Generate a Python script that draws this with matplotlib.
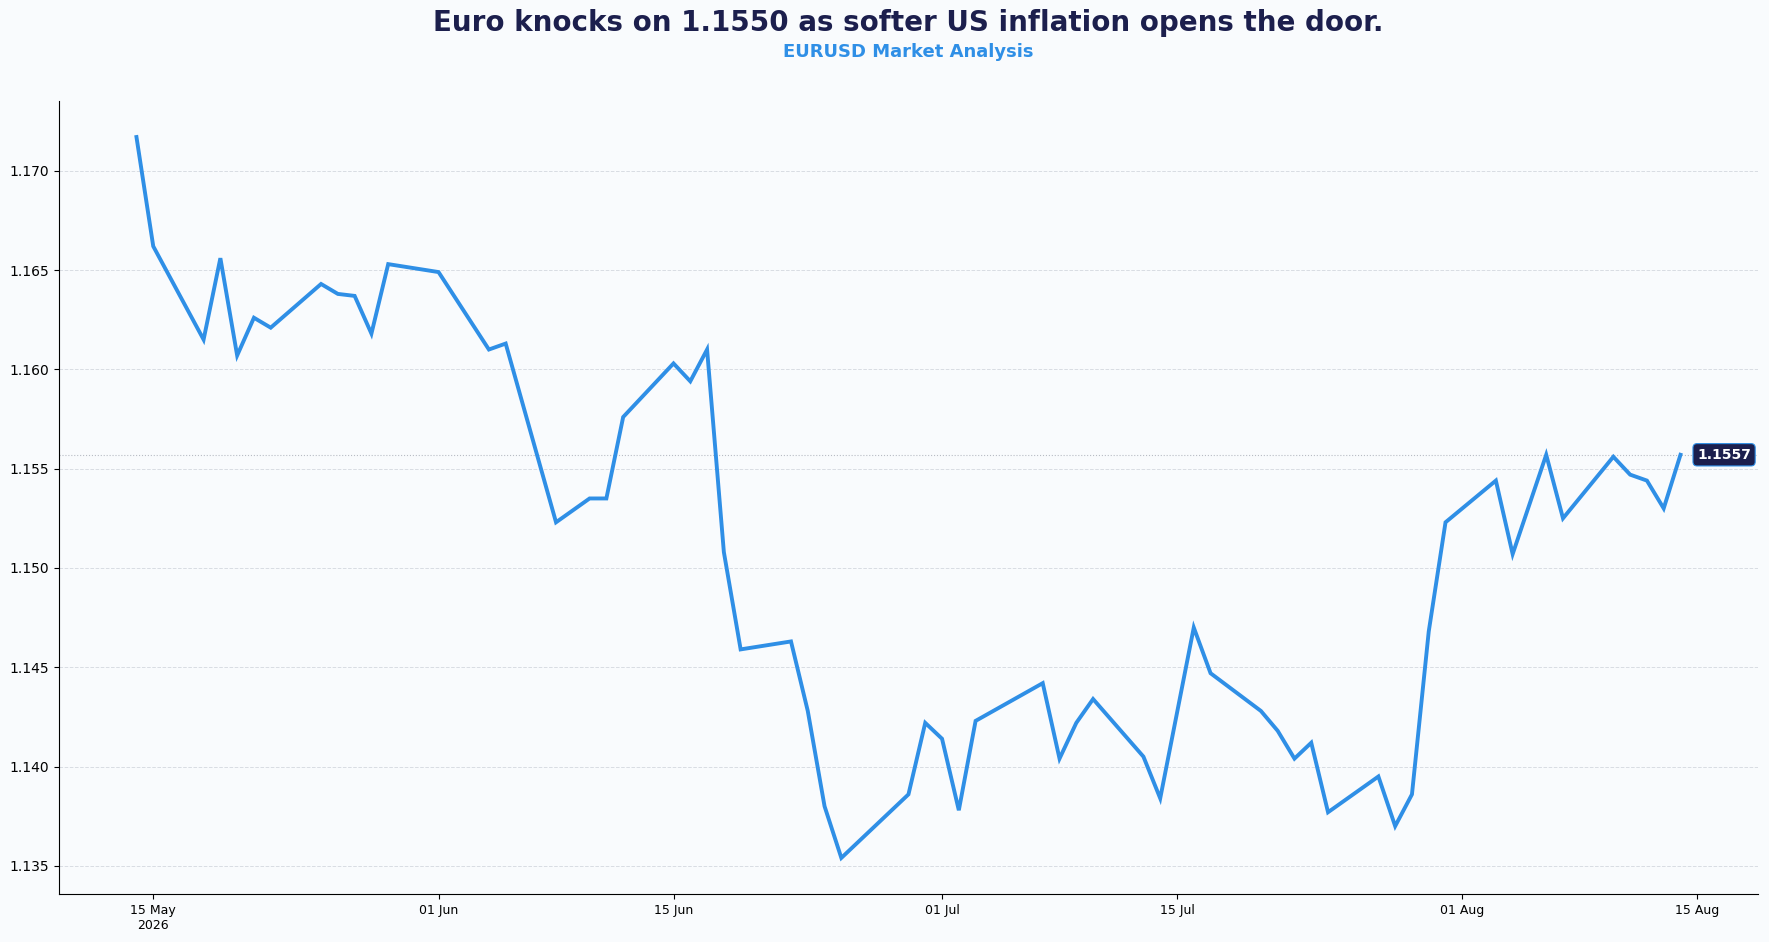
import numpy as np
import pandas as pd
import matplotlib
matplotlib.use("Agg")
import matplotlib.pyplot as plt
import matplotlib.dates as mdates
from matplotlib.ticker import FuncFormatter

# EURUSD closes
dates = [
    "2026-05-14", "2026-05-15", "2026-05-18", "2026-05-19", "2026-05-20",
    "2026-05-21", "2026-05-22", "2026-05-25", "2026-05-26", "2026-05-27",
    "2026-05-28", "2026-05-29", "2026-06-01", "2026-06-04", "2026-06-05",
    "2026-06-08", "2026-06-10", "2026-06-11", "2026-06-12", "2026-06-15",
    "2026-06-16", "2026-06-17", "2026-06-18", "2026-06-19", "2026-06-22",
    "2026-06-23", "2026-06-24", "2026-06-25", "2026-06-29", "2026-06-30",
    "2026-07-01", "2026-07-02", "2026-07-03", "2026-07-07", "2026-07-08",
    "2026-07-09", "2026-07-10", "2026-07-13", "2026-07-14", "2026-07-16",
    "2026-07-17", "2026-07-20", "2026-07-21", "2026-07-22", "2026-07-23",
    "2026-07-24", "2026-07-27", "2026-07-28", "2026-07-29", "2026-07-30",
    "2026-07-31", "2026-08-03", "2026-08-04", "2026-08-06", "2026-08-07",
    "2026-08-10", "2026-08-11", "2026-08-12", "2026-08-13", "2026-08-14",
]
close = [
    1.1717, 1.1662, 1.1615, 1.1656, 1.1607,
    1.1626, 1.1621, 1.1643, 1.1638, 1.1637,
    1.1618, 1.1653, 1.1649, 1.1610, 1.1613,
    1.1523, 1.1535, 1.1535, 1.1576, 1.1603,
    1.1594, 1.1610, 1.1508, 1.1459, 1.1463,
    1.1428, 1.1380, 1.1354, 1.1386, 1.1422,
    1.1414, 1.1378, 1.1423, 1.1442, 1.1404,
    1.1422, 1.1434, 1.1405, 1.1384, 1.1470,
    1.1447, 1.1428, 1.1418, 1.1404, 1.1412,
    1.1377, 1.1395, 1.1370, 1.1386, 1.1468,
    1.1523, 1.1544, 1.1507, 1.1557, 1.1525,
    1.1556, 1.1547, 1.1544, 1.1530, 1.1557,
]
title = "Euro knocks on 1.1550 as softer US inflation opens the door."
subtitle = "EURUSD Market Analysis"

x = pd.to_datetime(dates)
y = np.array(close)

bg = "#f9fbfd"
blue = "#2f8fe6"
navy = "#1c1f4d"

fig = plt.figure(figsize=(17.69, 9.42), dpi=100, facecolor=bg)
ax = fig.add_axes([0.0335, 0.051, 0.9601, 0.8418])
ax.set_facecolor(bg)

ax.plot(x, y, color=blue, lw=2.8, solid_joinstyle="miter", zorder=3)

last = y[-1]
ax.axhline(last, color="#b8bcc4", lw=0.8, ls=":", zorder=1)
ax.annotate(f"{last:.4f}", xy=(x[-1], last), xytext=(12, 0),
            textcoords="offset points", ha="left", va="center",
            color="white", fontsize=10, fontweight="bold",
            bbox=dict(boxstyle="round,pad=0.3", fc=navy, ec=blue, lw=0.8))

ax.yaxis.grid(True, ls="--", color="#d9dde3", lw=0.7)
ax.set_axisbelow(True)
for s in ["top", "right"]:
    ax.spines[s].set_visible(False)

ax.xaxis.set_major_locator(mdates.DayLocator(bymonthday=[1, 15]))
def fmt_date(v, pos):
    d = mdates.num2date(v)
    if pos == 0:
        return d.strftime("%d %b\n%Y")
    return d.strftime("%d %b")
ax.xaxis.set_major_formatter(FuncFormatter(fmt_date))
ax.yaxis.set_major_formatter(FuncFormatter(lambda v, p: f"{v:.3f}"))
ax.tick_params(axis="x", labelsize=9)
ax.tick_params(axis="y", labelsize=10)

cx = 0.0335 + 0.9601 / 2
fig.text(cx, 0.976, title, ha="center", va="center", fontsize=20,
         fontweight="bold", color=navy)
fig.text(cx, 0.945, subtitle, ha="center", va="center", fontsize=13,
         fontweight="bold", color=blue)

fig.savefig("out.png", dpi=100, facecolor=bg)
